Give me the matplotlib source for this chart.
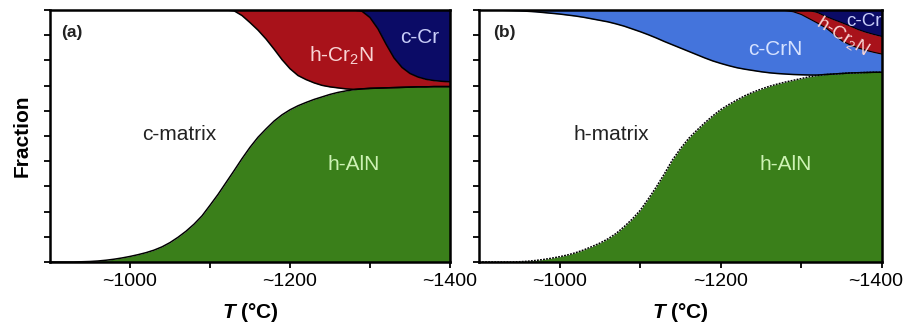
import matplotlib
matplotlib.use("Agg")
import matplotlib.pyplot as plt
import matplotlib.transforms as mtransforms
import numpy as np

plt.rcParams['font.family'] = ['Liberation Sans', 'DejaVu Sans']
plt.rcParams['mathtext.fontset'] = 'custom'
plt.rcParams['mathtext.rm'] = 'Liberation Sans'
plt.rcParams['mathtext.bfit'] = 'Liberation Sans:italic:bold'

# temperature grid (deg C), 900..1400 in steps of 10
temps = list(range(900, 1401, 10))

# (a) cumulative phase fractions (top edge of each phase band)
a_aln = [0, 0, 0, 0, 0.001, 0.002, 0.004, 0.007, 0.011, 0.016,
         0.022, 0.029, 0.037, 0.047, 0.06, 0.077, 0.098, 0.122, 0.15, 0.183,
         0.225, 0.268, 0.315, 0.362, 0.41, 0.455, 0.495, 0.528, 0.559, 0.584,
         0.604, 0.62, 0.633, 0.645, 0.655, 0.665, 0.673, 0.679, 0.684, 0.687,
         0.689, 0.69, 0.691, 0.692, 0.693, 0.694, 0.695, 0.695, 0.696, 0.696,
         0.696]
a_matrix = [1, 1, 1, 1, 1, 1, 1, 1, 1, 1,
            1, 1, 1, 1, 1, 1, 1, 1, 1, 1,
            1, 1, 1, 0.997, 0.978, 0.95, 0.92, 0.885, 0.845, 0.803,
            0.767, 0.74, 0.724, 0.711, 0.701, 0.695, 0.691, 0.687, 0.685, 0.687,
            0.689, 0.69, 0.691, 0.692, 0.693, 0.694, 0.695, 0.695, 0.696, 0.696,
            0.696]
a_cr2n = [1, 1, 1, 1, 1, 1, 1, 1, 1, 1,
          1, 1, 1, 1, 1, 1, 1, 1, 1, 1,
          1, 1, 1, 1, 1, 1, 1, 1, 1, 1,
          1, 1, 1, 1, 1, 1, 1, 1, 1, 0.995,
          0.97, 0.925, 0.865, 0.81, 0.772, 0.748, 0.734, 0.725, 0.72, 0.717,
          0.715]

# (b) cumulative phase fractions
b_aln = [0, 0, 0, 0, 0, 0.001, 0.003, 0.006, 0.01, 0.015,
         0.021, 0.028, 0.037, 0.048, 0.061, 0.075, 0.092, 0.113, 0.14, 0.17,
         0.205, 0.25, 0.298, 0.35, 0.405, 0.45, 0.49, 0.522, 0.552, 0.58,
         0.605, 0.625, 0.643, 0.66, 0.674, 0.686, 0.697, 0.706, 0.714, 0.721,
         0.728, 0.735, 0.74, 0.744, 0.746, 0.748, 0.75, 0.751, 0.752, 0.753,
         0.753]
b_matrix = [1, 1, 1, 0.999, 0.998, 0.997, 0.995, 0.993, 0.99, 0.987,
            0.984, 0.98, 0.976, 0.971, 0.965, 0.959, 0.953, 0.945, 0.936, 0.925,
            0.914, 0.902, 0.889, 0.875, 0.862, 0.849, 0.836, 0.823, 0.81, 0.798,
            0.788, 0.779, 0.771, 0.765, 0.76, 0.755, 0.751, 0.748, 0.746, 0.744,
            0.743, 0.742, 0.742, 0.744, 0.746, 0.748, 0.75, 0.751, 0.752, 0.753,
            0.753]
b_crn = [1, 1, 1, 1, 1, 1, 1, 1, 1, 1,
         1, 1, 1, 1, 1, 1, 1, 1, 1, 1,
         1, 1, 1, 1, 1, 1, 1, 1, 1, 1,
         1, 1, 1, 1, 1, 1, 1, 1, 0.998, 0.993,
         0.982, 0.965, 0.948, 0.93, 0.905, 0.878, 0.862, 0.85, 0.84, 0.832,
         0.825]
b_cr2n = [1, 1, 1, 1, 1, 1, 1, 1, 1, 1,
          1, 1, 1, 1, 1, 1, 1, 1, 1, 1,
          1, 1, 1, 1, 1, 1, 1, 1, 1, 1,
          1, 1, 1, 1, 1, 1, 1, 1, 1, 1,
          1, 0.998, 0.99, 0.975, 0.962, 0.95, 0.937, 0.923, 0.912, 0.903,
          0.895]

green = "#3a7f1a"
red = "#a8121a"
navy = "#0b0b66"
blue = "#4474dc"

fig = plt.figure(figsize=(9.06, 3.27), dpi=100)
ax1 = fig.add_axes([0.0552, 0.1988, 0.4415, 0.7706])
ax2 = fig.add_axes([0.5287, 0.1988, 0.4448, 0.7706])


def style(ax):
    ax.set_xlim(900, 1400)
    ax.set_ylim(0, 1)
    ax.set_xticks([1000, 1200, 1400])
    ax.set_xticklabels(["~1000", "~1200", "~1400"], fontsize=14)
    ax.set_xticks([1100, 1300], minor=True)
    ax.set_yticks(np.arange(0, 1.01, 0.1))
    ax.set_yticklabels([])
    ax.tick_params(which="both", direction="out", length=4, width=1.3, pad=4)
    for s in ax.spines.values():
        s.set_linewidth(1.8)
        s.set_zorder(5)
    ax.set_xlabel("$\\mathbfit{T}$ (°C)", fontsize=15, fontweight="bold", labelpad=8)


t = np.array(temps)

# panel (a)
ax1.fill_between(t, 0, a_aln, color=green, lw=0)
ax1.fill_between(t, a_matrix, a_cr2n, color=red, lw=0)
ax1.fill_between(t, a_cr2n, 1, color=navy, lw=0)
ax1.plot(t, a_aln, color="black", lw=1.1)
ax1.plot(t, a_matrix, color="black", lw=1.1)
ax1.plot(t, a_cr2n, color="black", lw=1.1)
style(ax1)
ax1.set_ylabel("Fraction", fontsize=15, fontweight="bold", labelpad=5)
ax1.text(0.028, 0.91, "(a)", transform=ax1.transAxes, fontsize=12.5, fontweight="bold",
         ha="left", va="center", color="#222222")
ax1.text(1062, 0.505, "c-matrix", fontsize=15, ha="center", va="center", color="#222222")
ax1.text(1280, 0.385, "h-AlN", fontsize=15, ha="center", va="center", color="#cdf2b4")
ax1.text(1265, 0.82, "h-Cr$_2$N", fontsize=15, ha="center", va="center", color="#f8d4d4")
ax1.text(1362, 0.89, "c-Cr", fontsize=15, ha="center", va="center", color="#c8cdf8")

# panel (b)
ax2.fill_between(t, 0, b_aln, color=green, lw=0)
ax2.fill_between(t, b_matrix, b_crn, color=blue, lw=0)
ax2.fill_between(t, b_crn, b_cr2n, color=red, lw=0)
ax2.fill_between(t, b_cr2n, 1, color=navy, lw=0)
ax2.plot(t, b_aln, color="black", lw=1.1, ls=(0, (1.2, 0.8)))
ax2.plot(t, b_matrix, color="black", lw=1.1)
ax2.plot(t, b_crn, color="black", lw=0.8)
ax2.plot(t, b_cr2n, color="black", lw=0.8)
style(ax2)
ax2.text(0.035, 0.91, "(b)", transform=ax2.transAxes, fontsize=12.5, fontweight="bold",
         ha="left", va="center", color="#222222")
ax2.text(1064, 0.505, "h-matrix", fontsize=15, ha="center", va="center", color="#222222")
ax2.text(1280, 0.385, "h-AlN", fontsize=15, ha="center", va="center", color="#cdf2b4")
ax2.text(1268, 0.845, "c-CrN", fontsize=15, ha="center", va="center", color="#d6e2ff")
ax2.text(1350, 0.895, "h-Cr$_2$N", fontsize=13.5, ha="center", va="center", color="#f8d4d4",
         rotation=-32)
ax2.text(1378, 0.955, "c-Cr", fontsize=13.5, ha="center", va="center", color="#c8cdf8",
         clip_on=True)

# keep the last tick label inside the canvas
last = ax2.get_xticklabels()[-1]
last.set_transform(last.get_transform() +
                   mtransforms.ScaledTranslation(-6 / 100, 0, fig.dpi_scale_trans))

fig.savefig("out.png", dpi=100)
